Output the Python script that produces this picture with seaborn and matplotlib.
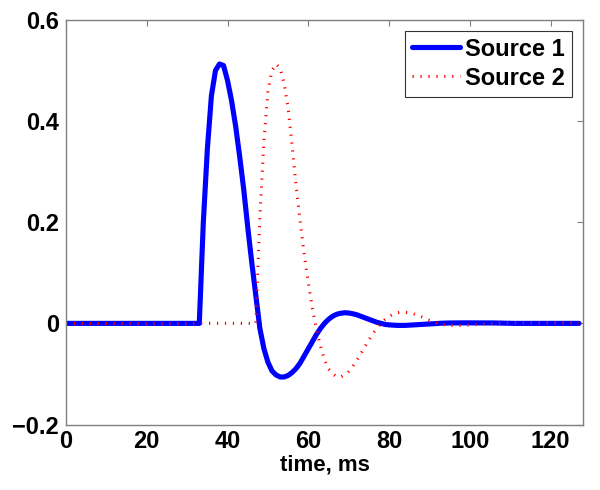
import numpy as np
import pandas as pd
import matplotlib
matplotlib.use("Agg")
import matplotlib.pyplot as plt
import seaborn as sns

# ---- data (1 ms samples) ----
time_ms = list(range(0, 128))

src1_lead = [0.0] * 33  # t = 0..32
src1_body = [  # t = 33..
    0.0, 0.20, 0.345, 0.45, 0.50, 0.513, 0.51, 0.48, 0.44, 0.39,
    0.33, 0.265, 0.19, 0.12, 0.055, -0.01, -0.05, -0.077, -0.094, -0.102,
    -0.106, -0.106, -0.103, -0.097, -0.089, -0.078, -0.064, -0.05, -0.036, -0.022,
    -0.01, 0.0, 0.008, 0.014, 0.018, 0.020, 0.021, 0.0205, 0.019, 0.017,
    0.014, 0.011, 0.008, 0.005, 0.002, 0.0, -0.002, -0.003, -0.0035, -0.004,
    -0.004, -0.004, -0.0035, -0.003, -0.0025, -0.002, -0.0015, -0.001, -0.0005, 0.0,
    0.0003, 0.0006, 0.0008, 0.0009, 0.001, 0.001, 0.001, 0.001, 0.001, 0.001,
    0.001, 0.001, 0.001, 0.0008, 0.0006, 0.0004, 0.0002, 0.0, 0.0, 0.0,
    0.0, 0.0, 0.0, 0.0, 0.0, 0.0, 0.0, 0.0, 0.0, 0.0,
    0.0, 0.0, 0.0, 0.0, 0.0,
]
source1 = (src1_lead + src1_body)[:128]

src2_lead = [0.0] * 47  # t = 0..46
src2_body = [  # t = 47..
    0.0, 0.21, 0.36, 0.46, 0.50, 0.513, 0.505, 0.475, 0.425, 0.35,
    0.27, 0.20, 0.135, 0.08, 0.03, -0.012, -0.045, -0.072, -0.09, -0.1,
    -0.105, -0.106, -0.102, -0.095, -0.085, -0.073, -0.06, -0.046, -0.033, -0.02,
    -0.009, 0.0, 0.008, 0.014, 0.018, 0.021, 0.022, 0.022, 0.021, 0.019,
    0.016, 0.013, 0.009, 0.006, 0.003, 0.0, -0.002, -0.003, -0.004, -0.004,
    -0.004, -0.004, -0.0035, -0.003, -0.0025, -0.002, -0.0015, -0.001, -0.0005, 0.0,
    0.0003, 0.0006, 0.0008, 0.0009, 0.001, 0.001, 0.001, 0.001, 0.001, 0.001,
    0.001, 0.001, 0.001, 0.001, 0.001, 0.001, 0.001, 0.001, 0.001, 0.001,
    0.001,
]
source2 = (src2_lead + src2_body)[:128]

series_names = ["Source 1", "Source 2"]
x_ticks = [0, 20, 40, 60, 80, 100, 120]
y_ticks = [-0.2, 0, 0.2, 0.4, 0.6]
y_tick_labels = ["\u22120.2", "0", "0.2", "0.4", "0.6"]

df = pd.DataFrame({"time": time_ms, series_names[0]: source1, series_names[1]: source2})

# ---- style ----
sns.set_style("white")
plt.rcParams["font.family"] = ["Liberation Sans", "DejaVu Sans"]
plt.rcParams["font.weight"] = "bold"
plt.rcParams["text.color"] = "black"
plt.rcParams["axes.labelcolor"] = "black"

fig = plt.figure(figsize=(6.0, 4.9), dpi=100)
ax = fig.add_axes([66 / 600, 1 - 424.5 / 490, (583 - 66) / 600, (424.5 - 20) / 490])

sns.lineplot(data=df, x="time", y=series_names[0], ax=ax, color="#0000ff",
             lw=3.7, label=series_names[0], solid_joinstyle="round")
sns.lineplot(data=df, x="time", y=series_names[1], ax=ax, color="#ff0000",
             lw=2.2, linestyle=(0, (0.4, 2.2)), dash_capstyle="butt",
             label=series_names[1])

ax.set_xlim(0, 128)
ax.set_ylim(-0.2, 0.6)
ax.set_xticks(x_ticks)
ax.set_xticklabels([str(v) for v in x_ticks])
ax.set_yticks(y_ticks)
ax.set_yticklabels(y_tick_labels)

for sp in ax.spines.values():
    sp.set_visible(True)
    sp.set_color("#7f7f7f")
    sp.set_linewidth(1.0)

ax.tick_params(axis="both", which="both", direction="in", length=4, width=0.8,
               color="#7f7f7f", top=True, right=True, labelsize=17,
               labelcolor="black")
ax.tick_params(axis="x", pad=4)
ax.tick_params(axis="y", pad=5)
for lab in ax.get_xticklabels() + ax.get_yticklabels():
    lab.set_fontweight("bold")
    lab.set_color("black")

ax.set_xlabel("time, ms", fontsize=16, fontweight="bold", labelpad=1, color="black")
ax.set_ylabel("")

leg = ax.legend(loc="upper right", fontsize=17, frameon=True, fancybox=False,
                framealpha=1, edgecolor="#333333", handlelength=2.0,
                handletextpad=0.25, borderpad=0.3, labelspacing=0.25,
                borderaxespad=0.45)
leg.get_frame().set_linewidth(0.8)
for t in leg.get_texts():
    t.set_fontweight("bold")
    t.set_color("black")

fig.savefig("out.png", dpi=100)
